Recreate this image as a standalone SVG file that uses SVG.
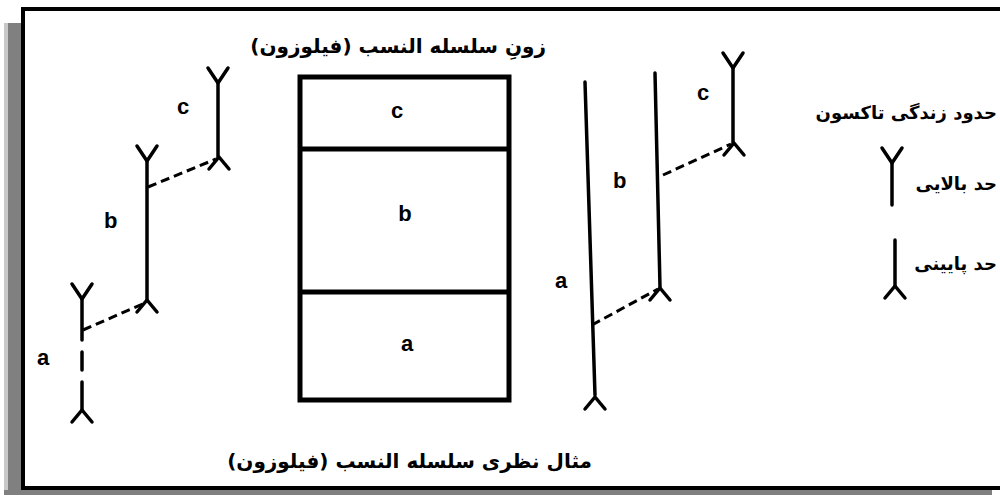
<svg xmlns="http://www.w3.org/2000/svg" width="1000" height="495" viewBox="0 0 1000 495">
<style>
.ln{stroke:#000;stroke-width:3.5;fill:none;stroke-linecap:round;stroke-linejoin:round}
.dash{stroke:#000;stroke-width:3;fill:none;stroke-dasharray:9 5}
.box{stroke:#000;stroke-width:5;fill:none}
.lbl{font-family:"Liberation Sans",Arial,sans-serif;font-weight:bold;font-size:22px;fill:#000}
.fa{font-family:"DejaVu Sans",sans-serif;font-weight:bold;font-size:20px;fill:#000}
.fs{font-family:"DejaVu Sans",sans-serif;font-weight:bold;font-size:18px;fill:#000}
</style>
<defs>
<path id="up" class="ln" d="M-10,-15 L0,0 L10,-15"/>
<path id="dn" class="ln" d="M-10,12 L0,0 L10,12"/>
</defs>
<rect x="0" y="0" width="1000" height="495" fill="#fff"/>
<g id="frame">
<rect x="4" y="23" width="18" height="472" fill="#808080"/>
<rect x="4" y="23" width="4" height="472" fill="#c8c8c8"/>
<rect x="4" y="490" width="988" height="5" fill="#808080"/>
<rect x="23" y="9" width="990" height="479" fill="none" stroke="#000" stroke-width="4"/>
</g>
<g id="left-c">
<use href="#up" x="218" y="83"/>
<line class="ln" x1="218" y1="83" x2="218" y2="157"/>
<use href="#dn" x="219" y="157"/>
<text class="lbl" x="177" y="114">c</text>
</g>
<g id="left-b">
<use href="#up" x="147" y="161"/>
<line class="ln" x1="147" y1="161" x2="147" y2="300"/>
<use href="#dn" x="147" y="300"/>
<text class="lbl" x="104" y="228">b</text>
</g>
<g id="left-a">
<use href="#up" x="82" y="299"/>
<line class="ln" x1="82" y1="299" x2="82" y2="340"/>
<line class="ln" x1="82" y1="352" x2="82" y2="370"/>
<line class="ln" x1="82" y1="382" x2="82" y2="410"/>
<use href="#dn" x="82" y="410"/>
<text class="lbl" x="37" y="365">a</text>
</g>
<g id="zone-box">
<rect class="box" x="300" y="77" width="209" height="323"/>
<line class="box" x1="300" y1="149" x2="509" y2="149"/>
<line class="box" x1="300" y1="292" x2="509" y2="292"/>
<text class="lbl" x="397" y="118" text-anchor="middle">c</text>
<text class="lbl" x="405" y="221" text-anchor="middle">b</text>
<text class="lbl" x="407" y="351" text-anchor="middle">a</text>
<text class="fa" x="546" y="53" text-anchor="end">زونِ سلسله النسب (فیلوزون)</text>
</g>
<g id="right-a">
<line class="ln" x1="585" y1="82" x2="595" y2="395"/>
<use href="#dn" x="595" y="397"/>
<text class="lbl" x="555" y="288">a</text>
</g>
<g id="right-b">
<line class="ln" x1="655" y1="73" x2="660" y2="287"/>
<use href="#dn" x="660" y="288"/>
<text class="lbl" x="613" y="188">b</text>
</g>
<g id="right-c">
<use href="#up" x="733" y="68"/>
<line class="ln" x1="733" y1="68" x2="733" y2="143"/>
<use href="#dn" x="734" y="143"/>
<text class="lbl" x="697" y="100">c</text>
</g>
<g id="legend">
<text class="fs" x="997" y="119" text-anchor="end">حدود زندگی تاکسون</text>
<use href="#up" x="892" y="163"/>
<line class="ln" x1="892" y1="163" x2="892" y2="205"/>
<text class="fs" x="997" y="190" text-anchor="end">حد بالایی</text>
<line class="ln" x1="895" y1="240" x2="895" y2="286"/>
<use href="#dn" x="895" y="286"/>
<text class="fs" x="997" y="270" text-anchor="end">حد پایینی</text>
</g>
<g id="connectors">
<path class="dash" d="M148,187 L216,159"/>
<path class="dash" d="M83,330 L145,303"/>
<path class="dash" d="M663,175 L731,144"/>
<path class="dash" d="M592,325 L658,289"/>
</g>
<text class="fa" x="592" y="468" text-anchor="end">مثال نظری سلسله النسب (فیلوزون)</text>
</svg>
